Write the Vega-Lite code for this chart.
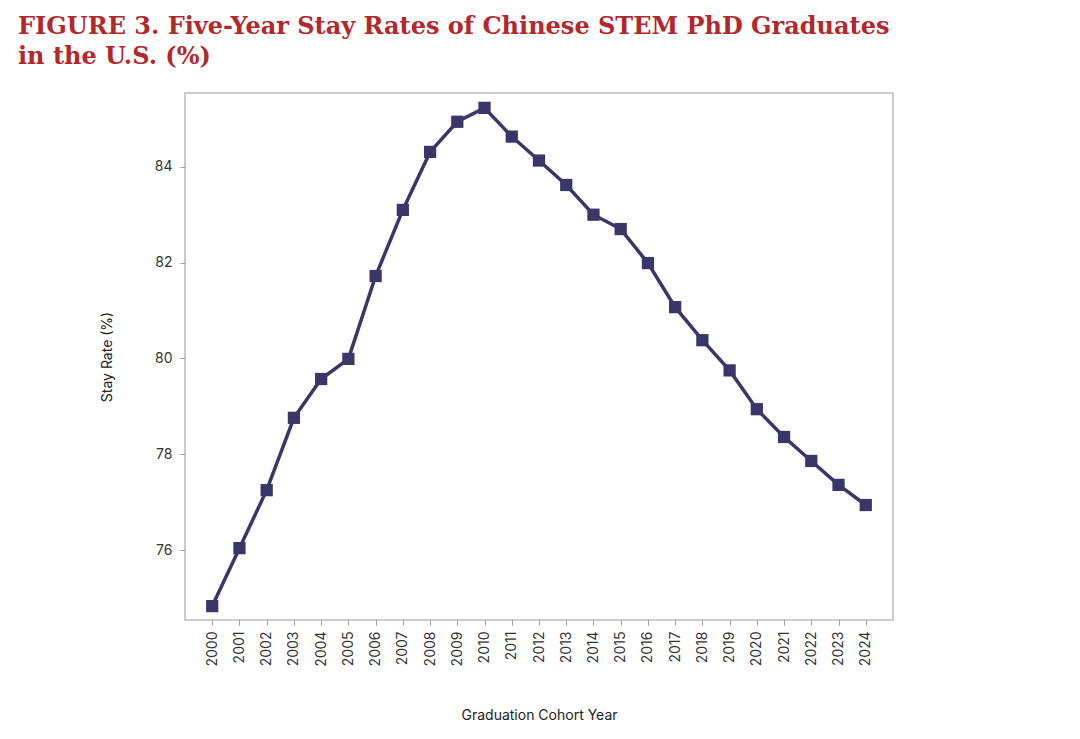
{
  "$schema": "https://vega.github.io/schema/vega-lite/v6.json",
  "width": 708,
  "height": 527,
  "autosize": {"type": "none"},
  "padding": {"left": 185, "top": 93, "right": 187, "bottom": 119},
  "background": "white",
  "title": {
    "text": ["FIGURE 3. Five-Year Stay Rates of Chinese STEM PhD Graduates", "in the U.S. (%)"],
    "anchor": "start",
    "frame": "group",
    "dx": -167,
    "offset": 24,
    "font": "DejaVu Serif",
    "fontSize": 24,
    "fontWeight": "bold",
    "color": "#b3282d",
    "lineHeight": 30
  },
  "data": {"values": [
    {"year": "2000", "rate": 74.83}, {"year": "2001", "rate": 76.04}, {"year": "2002", "rate": 77.25},
    {"year": "2003", "rate": 78.76}, {"year": "2004", "rate": 79.57}, {"year": "2005", "rate": 79.99},
    {"year": "2006", "rate": 81.72}, {"year": "2007", "rate": 83.1}, {"year": "2008", "rate": 84.31},
    {"year": "2009", "rate": 84.94}, {"year": "2010", "rate": 85.23}, {"year": "2011", "rate": 84.63},
    {"year": "2012", "rate": 84.13}, {"year": "2013", "rate": 83.62}, {"year": "2014", "rate": 83.0},
    {"year": "2015", "rate": 82.7}, {"year": "2016", "rate": 81.99}, {"year": "2017", "rate": 81.07},
    {"year": "2018", "rate": 80.38}, {"year": "2019", "rate": 79.75}, {"year": "2020", "rate": 78.94},
    {"year": "2021", "rate": 78.36}, {"year": "2022", "rate": 77.86}, {"year": "2023", "rate": 77.36},
    {"year": "2024", "rate": 76.94}
  ]},
  "config": {
    "view": {"stroke": "#cccccc", "strokeWidth": 2},
    "axis": {"labelFont": "Inter", "titleFont": "Inter", "labelFontSize": 14, "titleFontSize": 14,
      "titleFontWeight": "normal", "labelColor": "#333", "titleColor": "#222", "domain": false,
      "tickColor": "#999", "grid": false}
  },
  "encoding": {
    "x": {"field": "year", "type": "ordinal", "scale": {"type": "point", "padding": 2.5},
      "axis": {"title": "Graduation Cohort Year", "labelAngle": -90, "labelPadding": 6, "titlePadding": 42}},
    "y": {"field": "rate", "type": "quantitative", "scale": {"domain": [74.54, 85.54], "nice": false, "zero": false},
      "axis": {"title": "Stay Rate (%)", "values": [76, 78, 80, 82, 84], "titlePadding": 40, "labelPadding": 8}}
  },
  "layer": [
    {"mark": {"type": "line", "color": "#3a3669", "strokeWidth": 3.5}},
    {"mark": {"type": "square", "color": "#3a3669", "opacity": 1, "size": 150}}
  ]
}
